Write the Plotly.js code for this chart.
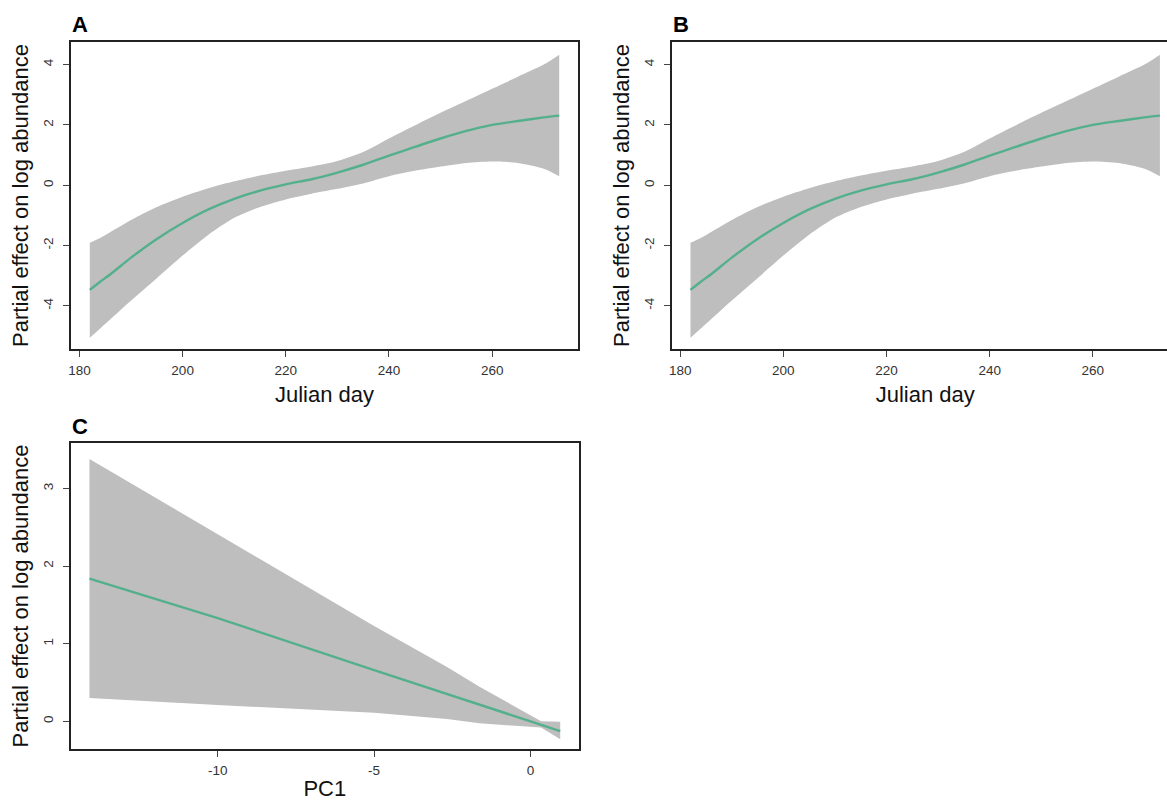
<!DOCTYPE html>
<html>
<head>
<meta charset="utf-8">
<script src="https://cdn.plot.ly/plotly-3.0.1.min.js"></script>
<style>
  html, body { margin: 0; padding: 0; overflow: hidden; background: #fff; }
  #chart { width: 1180px; height: 801px; }
</style>
</head>
<body>
<div id="chart"></div>
<script>
// ---- Data ----
const days = [182, 184, 186, 190, 195, 200, 205, 210, 215, 220, 225, 230, 235, 240, 245, 250, 255, 260, 265, 270, 273];
const dayFit   = [-3.47, -3.20, -2.95, -2.40, -1.78, -1.25, -0.80, -0.45, -0.18, 0.03, 0.20, 0.42, 0.68, 0.98, 1.27, 1.55, 1.80, 2.00, 2.13, 2.25, 2.31];
const dayUpper = [-1.91, -1.75, -1.55, -1.15, -0.72, -0.38, -0.10, 0.13, 0.32, 0.48, 0.62, 0.80, 1.10, 1.55, 1.98, 2.40, 2.80, 3.20, 3.60, 4.00, 4.33];
const dayLower = [-5.06, -4.75, -4.44, -3.82, -3.08, -2.33, -1.64, -1.08, -0.72, -0.47, -0.28, -0.12, 0.06, 0.30, 0.48, 0.62, 0.74, 0.79, 0.74, 0.55, 0.30];

const pc1      = [-14.1, -10, -5, -2.67, -1.63, 0.34, 0.95];
const pcFit    = [1.84, 1.33, 0.66, 0.35, 0.21, -0.045, -0.125];
const pcUpper  = [3.38, 2.41, 1.23, 0.70, 0.446, 0.00, -0.005];
const pcLower  = [0.30, 0.21, 0.11, 0.03, -0.026, -0.08, -0.23];

const dayTicks = [180, 200, 220, 240, 260];
const dayEffTicks = [-4, -2, 0, 2, 4];
const pcTicks = [-10, -5, 0];
const pcEffTicks = [0, 1, 2, 3];

const panelLabels = ['A', 'B', 'C'];
const xTitleDay = 'Julian day';
const xTitlePC = 'PC1';
const yTitle = 'Partial effect on log abundance';

// ---- Styling ----
const W = 1180, H = 801;
const lineColor = 'rgb(84,176,140)';
const bandColor = 'rgb(190,190,190)';
const FONT = 'Liberation Sans, Arial, Helvetica, sans-serif';

function px(x) { return x / W; }
function py(y) { return 1 - y / H; }

function axisBase(extra) {
  return Object.assign({
    showline: true, linecolor: '#222', linewidth: 1.6, mirror: true,
    ticks: 'outside', ticklen: 6, tickwidth: 1, tickcolor: '#444',
    showgrid: false, zeroline: false, automargin: false,
    tickfont: {family: FONT, size: 13.5, color: '#333'},
    tickmode: 'array'
  }, extra);
}

function bandTraces(x, lo, hi, fit, xa, ya, shape) {
  return [
    {x: x, y: lo, xaxis: xa, yaxis: ya, type: 'scatter', mode: 'lines',
     line: {width: 0, color: bandColor, shape: shape, smoothing: 0.7}, hoverinfo: 'skip', showlegend: false},
    {x: x, y: hi, xaxis: xa, yaxis: ya, type: 'scatter', mode: 'lines', fill: 'tonexty',
     fillcolor: bandColor, line: {width: 0, color: bandColor, shape: shape, smoothing: 0.7}, hoverinfo: 'skip', showlegend: false},
    {x: x, y: fit, xaxis: xa, yaxis: ya, type: 'scatter', mode: 'lines',
     line: {width: 2.4, color: lineColor, shape: shape, smoothing: 0.7}, showlegend: false}
  ];
}

const data = [].concat(
  bandTraces(days, dayLower, dayUpper, dayFit, 'x', 'y', 'spline'),
  bandTraces(days, dayLower, dayUpper, dayFit, 'x2', 'y2', 'spline'),
  bandTraces(pc1, pcLower, pcUpper, pcFit, 'x3', 'y3', 'linear')
);

const titleFont = {family: FONT, size: 22, color: '#111'};
const yTitleObj = {text: yTitle, font: titleFont, standoff: 6};
const yExtra = {tickangle: -90, ticklabelstandoff: 5};

const layout = {
  width: W, height: H,
  margin: {l: 0, r: 0, t: 0, b: 0},
  paper_bgcolor: '#fff', plot_bgcolor: '#fff',
  showlegend: false,
  font: {family: FONT},
  xaxis: axisBase({domain: [px(71), px(578)], range: [178.36, 276.64], tickvals: dayTicks, ticktext: dayTicks.map(String),
    anchor: 'y', ticklabelstandoff: 2, title: {text: xTitleDay, font: titleFont, standoff: 10}}),
  yaxis: axisBase(Object.assign({domain: [py(349), py(42)], range: [-5.43, 4.75], tickvals: dayEffTicks, ticktext: dayEffTicks.map(String),
    anchor: 'x', title: yTitleObj}, yExtra)),
  xaxis2: axisBase({domain: [px(671.7), px(1178.7)], range: [178.36, 276.64], tickvals: dayTicks, ticktext: dayTicks.map(String),
    anchor: 'y2', ticklabelstandoff: 2, title: {text: xTitleDay, font: titleFont, standoff: 10}}),
  yaxis2: axisBase(Object.assign({domain: [py(349), py(42)], range: [-5.43, 4.75], tickvals: dayEffTicks, ticktext: dayEffTicks.map(String),
    anchor: 'x2', title: yTitleObj}, yExtra)),
  xaxis3: axisBase({domain: [px(70.7), px(579)], range: [-14.7, 1.55], tickvals: pcTicks, ticktext: pcTicks.map(String),
    anchor: 'y3', ticklabelstandoff: 2, title: {text: xTitlePC, font: titleFont, standoff: 12}}),
  yaxis3: axisBase(Object.assign({domain: [py(749.3), py(442.7)], range: [-0.36, 3.59], tickvals: pcEffTicks, ticktext: pcEffTicks.map(String),
    anchor: 'x3', title: yTitleObj}, yExtra)),
  annotations: [
    {text: '<b>' + panelLabels[0] + '</b>', x: px(70), y: py(25), xref: 'paper', yref: 'paper', xanchor: 'left', yanchor: 'middle', showarrow: false, font: {family: FONT, size: 22, color: '#000'}},
    {text: '<b>' + panelLabels[1] + '</b>', x: px(671), y: py(25), xref: 'paper', yref: 'paper', xanchor: 'left', yanchor: 'middle', showarrow: false, font: {family: FONT, size: 22, color: '#000'}},
    {text: '<b>' + panelLabels[2] + '</b>', x: px(70), y: py(426), xref: 'paper', yref: 'paper', xanchor: 'left', yanchor: 'middle', showarrow: false, font: {family: FONT, size: 22, color: '#000'}}
  ]
};

Plotly.newPlot('chart', data, layout, {displayModeBar: false, staticPlot: true});
</script>
</body>
</html>
